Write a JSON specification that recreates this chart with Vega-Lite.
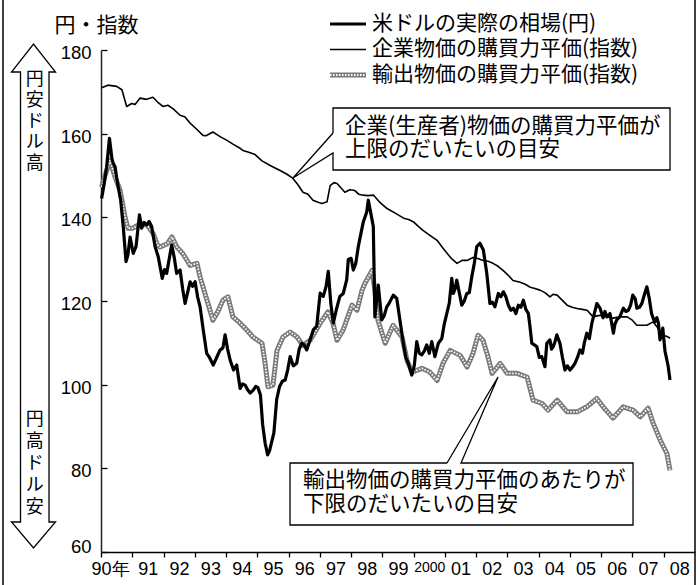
{
"$schema": "https://vega.github.io/schema/vega-lite/v6.json",
"width": 594, "height": 502,
"autosize": {"type": "none"},
"padding": {"left": 101, "top": 50, "right": 3, "bottom": 33},
"background": "white",
"config": {"view": {"stroke": null}, "text": {"font": "Noto Sans CJK JP", "color": "black"}},
"datasets": {
"usd": [
{"t":1990.02,"v":144.5},{"t":1990.10,"v":148},{"t":1990.18,"v":152},{"t":1990.27,"v":158.9},{"t":1990.35,"v":154},{"t":1990.39,"v":152.9},{"t":1990.45,"v":152.1},{"t":1990.50,"v":149.5},{"t":1990.55,"v":147.3},{"t":1990.63,"v":144.1},{"t":1990.72,"v":137},{"t":1990.80,"v":129.4},{"t":1990.86,"v":131},{"t":1990.93,"v":135.3},
{"t":1991.03,"v":131.4},{"t":1991.12,"v":133},{"t":1991.23,"v":140.6},{"t":1991.30,"v":137.4},{"t":1991.38,"v":138.8},{"t":1991.46,"v":138.2},{"t":1991.54,"v":139},{"t":1991.62,"v":137.8},{"t":1991.73,"v":133},{"t":1991.83,"v":130.6},{"t":1991.96,"v":125.4},
{"t":1992.03,"v":127.5},{"t":1992.10,"v":126.6},{"t":1992.18,"v":130},{"t":1992.26,"v":133.4},{"t":1992.34,"v":130.5},{"t":1992.42,"v":126.6},{"t":1992.53,"v":127.4},{"t":1992.61,"v":123},{"t":1992.69,"v":119.4},{"t":1992.77,"v":122},{"t":1992.85,"v":124.6},{"t":1992.93,"v":123.5},
{"t":1993.01,"v":124.6},{"t":1993.09,"v":121},{"t":1993.17,"v":118.6},{"t":1993.27,"v":113.1},{"t":1993.38,"v":107.5},{"t":1993.47,"v":106.5},{"t":1993.59,"v":104.7},{"t":1993.70,"v":106.5},{"t":1993.81,"v":108.3},{"t":1993.90,"v":108.8},{"t":1993.97,"v":111.9},
{"t":1994.05,"v":108.5},{"t":1994.13,"v":105.9},{"t":1994.24,"v":103.5},{"t":1994.34,"v":104.7},{"t":1994.45,"v":99.1},{"t":1994.53,"v":100.2},{"t":1994.61,"v":99.9},{"t":1994.69,"v":98.8},{"t":1994.77,"v":98},{"t":1994.87,"v":98.7},{"t":1994.95,"v":99.6},
{"t":1995.02,"v":99.3},{"t":1995.10,"v":97.5},{"t":1995.17,"v":90.5},{"t":1995.25,"v":86},{"t":1995.33,"v":83.2},{"t":1995.39,"v":84.2},{"t":1995.45,"v":86},{"t":1995.53,"v":88.5},{"t":1995.62,"v":96.5},{"t":1995.71,"v":99.5},{"t":1995.80,"v":100.8},{"t":1995.89,"v":101.1},{"t":1995.97,"v":103.5},
{"t":1996.05,"v":106.7},{"t":1996.15,"v":104.5},{"t":1996.26,"v":105.1},{"t":1996.34,"v":108.5},{"t":1996.42,"v":109.9},{"t":1996.50,"v":109.5},{"t":1996.58,"v":108.3},{"t":1996.68,"v":110.5},{"t":1996.79,"v":113.1},{"t":1996.90,"v":114},
{"t":1997.01,"v":121.9},{"t":1997.11,"v":121.1},{"t":1997.20,"v":123.5},{"t":1997.27,"v":127.1},{"t":1997.35,"v":119.5},{"t":1997.43,"v":114.7},{"t":1997.53,"v":118},{"t":1997.64,"v":121.1},{"t":1997.75,"v":121.8},{"t":1997.86,"v":125.1},{"t":1997.91,"v":129.9},
{"t":1998.00,"v":130.2},{"t":1998.07,"v":127.4},{"t":1998.15,"v":129},{"t":1998.23,"v":133},{"t":1998.31,"v":136},{"t":1998.39,"v":138.9},{"t":1998.50,"v":141.3},{"t":1998.55,"v":144.1},{"t":1998.63,"v":141},{"t":1998.71,"v":137.8},{"t":1998.76,"v":116.2},{"t":1998.87,"v":123.8},{"t":1998.98,"v":115.5},
{"t":1999.06,"v":116.5},{"t":1999.14,"v":118.6},{"t":1999.22,"v":119.5},{"t":1999.35,"v":121.4},{"t":1999.46,"v":120.6},{"t":1999.56,"v":115.5},{"t":1999.67,"v":109.9},{"t":1999.75,"v":106.5},{"t":1999.83,"v":105.1},{"t":1999.94,"v":102.3},
{"t":2000.02,"v":104.5},{"t":2000.10,"v":110.3},{"t":2000.18,"v":107.5},{"t":2000.26,"v":107.1},{"t":2000.34,"v":108},{"t":2000.42,"v":109.5},{"t":2000.50,"v":107.5},{"t":2000.58,"v":110.3},{"t":2000.68,"v":106.7},{"t":2000.79,"v":109.9},{"t":2000.90,"v":111},{"t":2000.98,"v":114.5},
{"t":2001.06,"v":117},{"t":2001.14,"v":119.5},{"t":2001.22,"v":125.4},{"t":2001.27,"v":121.8},{"t":2001.33,"v":123},{"t":2001.38,"v":125},{"t":2001.46,"v":122},{"t":2001.54,"v":119},{"t":2001.62,"v":120},{"t":2001.70,"v":121.8},{"t":2001.78,"v":122},{"t":2001.86,"v":125.8},{"t":2001.94,"v":129},
{"t":2002.02,"v":133},{"t":2002.12,"v":133.8},{"t":2002.23,"v":132.2},{"t":2002.34,"v":126.6},{"t":2002.44,"v":119.4},{"t":2002.52,"v":119.7},{"t":2002.60,"v":118.6},{"t":2002.71,"v":121.8},{"t":2002.79,"v":121},{"t":2002.87,"v":122.2},{"t":2002.95,"v":121},
{"t":2003.03,"v":119},{"t":2003.11,"v":117.8},{"t":2003.19,"v":118.3},{"t":2003.27,"v":117},{"t":2003.35,"v":119},{"t":2003.43,"v":118.5},{"t":2003.51,"v":120.2},{"t":2003.59,"v":118},{"t":2003.67,"v":117},{"t":2003.72,"v":114},{"t":2003.78,"v":109.9},{"t":2003.86,"v":109.5},{"t":2003.94,"v":109.1},
{"t":2004.02,"v":106.5},{"t":2004.10,"v":106.7},{"t":2004.20,"v":104.3},{"t":2004.26,"v":109.9},{"t":2004.36,"v":110.7},{"t":2004.41,"v":108.5},{"t":2004.47,"v":109.1},{"t":2004.53,"v":110.5},{"t":2004.58,"v":111.9},{"t":2004.68,"v":109.9},{"t":2004.76,"v":106.5},{"t":2004.84,"v":103.5},{"t":2004.92,"v":104.5},
{"t":2005.00,"v":103.5},{"t":2005.08,"v":104.2},{"t":2005.16,"v":105.1},{"t":2005.24,"v":106.5},{"t":2005.32,"v":108.3},{"t":2005.40,"v":107.5},{"t":2005.46,"v":110},{"t":2005.54,"v":112.3},{"t":2005.62,"v":111},{"t":2005.70,"v":114.7},{"t":2005.78,"v":117},{"t":2005.86,"v":119.4},{"t":2005.96,"v":118.3},
{"t":2006.06,"v":116},{"t":2006.12,"v":117.5},{"t":2006.18,"v":116.2},{"t":2006.28,"v":117},{"t":2006.39,"v":112.3},{"t":2006.44,"v":114.5},{"t":2006.50,"v":115.5},{"t":2006.60,"v":116.3},{"t":2006.71,"v":118.3},{"t":2006.79,"v":117.5},{"t":2006.87,"v":117.8},{"t":2006.94,"v":119},
{"t":2007.01,"v":121.4},{"t":2007.09,"v":120.5},{"t":2007.14,"v":118.3},{"t":2007.22,"v":118.5},{"t":2007.30,"v":119.4},{"t":2007.38,"v":121.5},{"t":2007.46,"v":123.4},{"t":2007.54,"v":120.5},{"t":2007.61,"v":117},{"t":2007.68,"v":115.5},{"t":2007.72,"v":115},{"t":2007.78,"v":116},{"t":2007.83,"v":114.7},{"t":2007.88,"v":110.7},{"t":2007.93,"v":112},{"t":2007.97,"v":113.5},
{"t":2008.04,"v":108},{"t":2008.10,"v":105.9},{"t":2008.14,"v":104.5},{"t":2008.20,"v":101.1}
],
"cgpi": [
{"t":1990.02,"v":171.0},{"t":1990.22,"v":171.6},{"t":1990.50,"v":171.3},{"t":1990.67,"v":170.5},{"t":1990.82,"v":166.5},{"t":1990.98,"v":167.2},{"t":1991.09,"v":167.0},{"t":1991.25,"v":168.5},{"t":1991.46,"v":168.2},{"t":1991.66,"v":168.7},{"t":1991.82,"v":167.5},{"t":1991.98,"v":166.5},
{"t":1992.14,"v":166.8},{"t":1992.30,"v":166},{"t":1992.53,"v":164.4},{"t":1992.69,"v":164},{"t":1992.85,"v":162.5},{"t":1993.07,"v":161},{"t":1993.26,"v":159.6},{"t":1993.36,"v":159.5},{"t":1993.58,"v":160.4},{"t":1993.81,"v":159.3},{"t":1994.03,"v":158.4},{"t":1994.22,"v":157.5},{"t":1994.45,"v":156.5},{"t":1994.54,"v":156},{"t":1994.70,"v":155.6},{"t":1994.93,"v":155},
{"t":1995.15,"v":153.5},{"t":1995.41,"v":152.4},{"t":1995.73,"v":151.2},{"t":1995.95,"v":150.3},{"t":1996.14,"v":149.3},{"t":1996.30,"v":147.8},{"t":1996.46,"v":146.0},{"t":1996.62,"v":145.5},{"t":1996.78,"v":144.1},{"t":1996.94,"v":143.6},{"t":1997.07,"v":143.3},{"t":1997.23,"v":143.7},{"t":1997.33,"v":147.6},{"t":1997.45,"v":148.3},{"t":1997.55,"v":148.1},{"t":1997.68,"v":147.0},{"t":1997.80,"v":146},{"t":1997.96,"v":146.6},
{"t":1998.12,"v":146.4},{"t":1998.25,"v":145.5},{"t":1998.38,"v":145.3},{"t":1998.54,"v":145.2},{"t":1998.72,"v":145.3},{"t":1998.93,"v":143.5},{"t":1999.15,"v":142.1},{"t":1999.41,"v":141},{"t":1999.68,"v":139.8},{"t":1999.84,"v":139.5},{"t":2000.00,"v":138.9},{"t":2000.14,"v":137.9},{"t":2000.30,"v":136.9},{"t":2000.52,"v":135.7},{"t":2000.75,"v":134.5},{"t":2000.91,"v":132.9},
{"t":2001.07,"v":131.4},{"t":2001.23,"v":130},{"t":2001.39,"v":129},{"t":2001.55,"v":129.7},{"t":2001.71,"v":129.7},{"t":2001.90,"v":130.4},{"t":2002.03,"v":130.2},{"t":2002.22,"v":129.7},{"t":2002.38,"v":129.5},{"t":2002.54,"v":129},{"t":2002.70,"v":128.3},{"t":2002.86,"v":127.3},
{"t":2003.02,"v":126.2},{"t":2003.18,"v":124.9},{"t":2003.41,"v":124.5},{"t":2003.57,"v":124},{"t":2003.73,"v":123.3},{"t":2003.88,"v":123},{"t":2004.04,"v":122.6},{"t":2004.20,"v":122},{"t":2004.36,"v":121},{"t":2004.46,"v":121.6},{"t":2004.59,"v":121.4},{"t":2004.75,"v":120.2},{"t":2004.91,"v":119},
{"t":2005.07,"v":118.5},{"t":2005.23,"v":118.2},{"t":2005.39,"v":118},{"t":2005.55,"v":117.8},{"t":2005.74,"v":116.2},{"t":2005.90,"v":116.5},{"t":2006.06,"v":116.6},{"t":2006.22,"v":116.2},{"t":2006.38,"v":115.9},{"t":2006.60,"v":116.2},{"t":2006.83,"v":116.2},{"t":2006.98,"v":115.5},
{"t":2007.14,"v":114.2},{"t":2007.30,"v":114.2},{"t":2007.46,"v":114.2},{"t":2007.66,"v":115},{"t":2007.79,"v":113.8},{"t":2007.88,"v":112.5},{"t":2007.98,"v":111.8},{"t":2008.11,"v":111.5},{"t":2008.20,"v":111.1}
],
"exp": [
{"t":1990.02,"v":147.2},{"t":1990.13,"v":150},{"t":1990.29,"v":153.6},{"t":1990.45,"v":149.6},{"t":1990.61,"v":146.5},{"t":1990.77,"v":140},{"t":1990.86,"v":137.4},{"t":1991.02,"v":137.4},{"t":1991.18,"v":138.1},{"t":1991.34,"v":138.4},{"t":1991.48,"v":138.1},{"t":1991.67,"v":136.1},{"t":1991.80,"v":133.5},{"t":1991.89,"v":132.9},
{"t":1992.12,"v":133.7},{"t":1992.27,"v":135.3},{"t":1992.43,"v":132.9},{"t":1992.62,"v":131.3},{"t":1992.85,"v":128.5},{"t":1993.07,"v":129},{"t":1993.17,"v":125.7},{"t":1993.39,"v":120.2},{"t":1993.58,"v":115.4},{"t":1993.74,"v":117.5},{"t":1993.90,"v":120.2},{"t":1994.06,"v":121},{"t":1994.22,"v":116.2},{"t":1994.45,"v":114.7},{"t":1994.67,"v":113},{"t":1994.86,"v":111.4},
{"t":1995.15,"v":109.9},{"t":1995.25,"v":105.1},{"t":1995.34,"v":99.5},{"t":1995.50,"v":99.9},{"t":1995.63,"v":108.2},{"t":1995.82,"v":111.4},{"t":1996.05,"v":112.6},{"t":1996.27,"v":111.4},{"t":1996.46,"v":109.4},{"t":1996.69,"v":110.6},{"t":1997.01,"v":114.7},{"t":1997.26,"v":117.4},{"t":1997.42,"v":114.7},{"t":1997.55,"v":110.6},{"t":1997.74,"v":113},
{"t":1998.03,"v":119},{"t":1998.19,"v":117.8},{"t":1998.35,"v":122.6},{"t":1998.44,"v":124.2},{"t":1998.67,"v":127.3},{"t":1998.76,"v":122.6},{"t":1998.86,"v":115.4},{"t":1999.09,"v":109.9},{"t":1999.34,"v":114.2},{"t":1999.63,"v":111.4},{"t":1999.79,"v":105.8},{"t":1999.95,"v":103},
{"t":2000.27,"v":103.9},{"t":2000.52,"v":103},{"t":2000.75,"v":101},{"t":2000.94,"v":105.1},{"t":2001.17,"v":108.2},{"t":2001.49,"v":107},{"t":2001.71,"v":104.2},{"t":2001.90,"v":107.5},{"t":2002.06,"v":111.8},{"t":2002.22,"v":110.6},{"t":2002.38,"v":106.6},{"t":2002.51,"v":102.7},{"t":2002.77,"v":105.1},{"t":2002.99,"v":102.7},
{"t":2003.31,"v":102.7},{"t":2003.63,"v":101.8},{"t":2003.82,"v":96.3},{"t":2004.11,"v":95.5},{"t":2004.30,"v":93.9},{"t":2004.59,"v":96.3},{"t":2004.91,"v":93.5},{"t":2005.23,"v":93.5},{"t":2005.54,"v":94.7},{"t":2005.86,"v":96.7},{"t":2006.06,"v":94.7},{"t":2006.38,"v":92},{"t":2006.70,"v":94.7},
{"t":2007.02,"v":93.9},{"t":2007.25,"v":92.3},{"t":2007.50,"v":94.4},{"t":2007.66,"v":90.8},{"t":2007.89,"v":86.7},{"t":2008.10,"v":83.6},{"t":2008.20,"v":79.5}
],
"legendLines": [
{"k":"usd","t":1997.325,"v":186.215},{"k":"usd","t":1998.476,"v":186.215},
{"k":"cgpi","t":1997.325,"v":180.12},{"k":"cgpi","t":1998.476,"v":180.12},
{"k":"exp","t":1997.325,"v":174.024},{"k":"exp","t":1998.476,"v":174.024}
],
"shapes": [
{"id":"b1","i":0,"t":1997.421,"v":160.159},{"id":"b1","i":1,"t":1997.421,"v":166.135},{"id":"b1","i":2,"t":2008.201,"v":166.135},{"id":"b1","i":3,"t":2008.201,"v":151.314},{"id":"b1","i":4,"t":1997.421,"v":151.314},{"id":"b1","i":5,"t":1997.421,"v":155.378},{"id":"b1","i":6,"t":1996.141,"v":149.402},{"id":"b1","i":7,"t":1997.421,"v":160.159},
{"id":"b2","i":0,"t":2001.067,"v":81.274},{"id":"b2","i":1,"t":1996.046,"v":81.274},{"id":"b2","i":2,"t":1996.046,"v":66.453},{"id":"b2","i":3,"t":2007.017,"v":66.453},{"id":"b2","i":4,"t":2007.017,"v":81.274},{"id":"b2","i":5,"t":2001.515,"v":81.274},{"id":"b2","i":6,"t":2002.699,"v":101.832},{"id":"b2","i":7,"t":2001.067,"v":81.274},
{"id":"ar","i":0,"t":1988.337,"v":120},{"id":"ar","i":1,"t":1988.337,"v":67.17},{"id":"ar","i":2,"t":1988.545,"v":67.17},{"id":"ar","i":3,"t":1987.841,"v":60.955},{"id":"ar","i":4,"t":1987.137,"v":67.17},{"id":"ar","i":5,"t":1987.425,"v":67.17},{"id":"ar","i":6,"t":1987.425,"v":174.741},{"id":"ar","i":7,"t":1987.137,"v":174.741},{"id":"ar","i":8,"t":1987.841,"v":181.434},{"id":"ar","i":9,"t":1988.545,"v":174.741},{"id":"ar","i":10,"t":1988.337,"v":174.741},{"id":"ar","i":11,"t":1988.337,"v":120}
],
"frame": [
{"t":1986.865,"v":194.3,"v2":49.7},{"t":2009.0,"v":194.3,"v2":49.7}
],
"texts": [
{"g":"leg","t":1998.668,"v":186.215,"label":"米ドルの実際の相場(円)"},
{"g":"leg","t":1998.668,"v":180.12,"label":"企業物価の購買力平価(指数)"},
{"g":"leg","t":1998.668,"v":174.024,"label":"輸出物価の購買力平価(指数)"},
{"g":"box1","t":1997.805,"v":161.594,"label":"企業(生産者)物価の購買力平価が\n上限のだいたいの目安"},
{"g":"box2","t":1996.461,"v":76.971,"label":"輸出物価の購買力平価のあたりが\n下限のだいたいの目安"},
{"g":"arr1","t":1987.884,"v":172.829,"label":"円\n安\nド\nル\n高"},
{"g":"arr2","t":1987.884,"v":91.673,"label":"円\n高\nド\nル\n安"}
]
},
"encoding": {
"x": {"field": "t", "type": "quantitative",
 "scale": {"domain": [1990, 2009], "nice": false, "zero": false},
 "axis": {"title": null, "grid": false,
  "values": [1990,1991,1992,1993,1994,1995,1996,1997,1998,1999,2000,2001,2002,2003,2004,2005,2006,2007,2008],
  "labelExpr": "datum.value == 1990 ? '90年' : datum.value == 2000 ? '2000' : ((datum.value % 100) < 10 ? '0' : '') + (datum.value % 100)",
  "labelOffset": {"condition": {"test": "datum.value == 1990", "value": 9}, "value": 15.6},
  "tickSize": 5, "tickColor": "black", "tickWidth": 1.3,
  "domainColor": "black", "domainWidth": 1.5,
  "labelFont": "Liberation Sans Narrow, Liberation Sans, sans-serif",
  "labelFontSize": {"condition": {"test": "datum.value == 2000", "value": 14}, "value": 18},
  "labelColor": "black",
  "labelPadding": 3, "labelFlush": false, "labelOverlap": false, "labelBound": false}},
"y": {"field": "v", "type": "quantitative",
 "scale": {"domain": [60, 180], "nice": false, "zero": false},
 "axis": {"title": "円・指数", "titleAngle": 0, "titleX": -5, "titleY": -25, "titleAlign": "center", "titleBaseline": "middle",
  "titleFont": "Noto Sans CJK JP", "titleFontSize": 21, "titleFontWeight": "normal", "titleColor": "black",
  "values": [60,80,100,120,140,160,180], "grid": false,
  "tickSize": -6, "tickColor": "black", "tickWidth": 1.3,
  "domainColor": "#222", "domainWidth": 1.5,
  "labelFont": "Liberation Sans, Arial, sans-serif", "labelFontSize": 18.5, "labelColor": "black",
  "labelPadding": 16, "labelFlush": false, "labelBound": false,
  "labelBaseline": {"condition": {"test": "datum.value == 60", "value": "alphabetic"}, "value": "middle"},
  "labelOffset": {"condition": {"test": "datum.value == 60", "value": 0}, "value": 2.5}}}
},
"layer": [
{"data": {"name": "frame"}, "mark": {"type": "rule", "color": "black", "strokeWidth": 1.5, "clip": false}, "encoding": {"y2": {"field": "v2"}}},
{"data": {"name": "shapes"}, "mark": {"type": "line", "color": "black", "strokeWidth": 1.3, "clip": false, "strokeJoin": "miter"}, "encoding": {"detail": {"field": "id"}, "order": {"field": "i", "type": "quantitative"}}},
{"data": {"name": "exp"}, "mark": {"type": "line", "color": "#7a7a7a", "strokeWidth": 5, "strokeJoin": "round", "clip": false}},
{"data": {"name": "exp"}, "mark": {"type": "line", "color": "white", "strokeWidth": 1.8, "strokeDash": [1.5, 1.5], "strokeJoin": "round", "clip": false}},
{"data": {"name": "cgpi"}, "mark": {"type": "line", "color": "black", "strokeWidth": 1.6, "strokeJoin": "round", "clip": false}},
{"data": {"name": "usd"}, "mark": {"type": "line", "color": "black", "strokeWidth": 3.2, "strokeJoin": "round", "clip": false}},
{"data": {"name": "legendLines"}, "transform": [{"filter": "datum.k == 'usd'"}], "mark": {"type": "line", "color": "black", "strokeWidth": 3.2, "clip": false}},
{"data": {"name": "legendLines"}, "transform": [{"filter": "datum.k == 'cgpi'"}], "mark": {"type": "line", "color": "black", "strokeWidth": 1.6, "clip": false}},
{"data": {"name": "legendLines"}, "transform": [{"filter": "datum.k == 'exp'"}], "mark": {"type": "line", "color": "#7a7a7a", "strokeWidth": 5, "clip": false}},
{"data": {"name": "legendLines"}, "transform": [{"filter": "datum.k == 'exp'"}], "mark": {"type": "line", "color": "white", "strokeWidth": 1.8, "strokeDash": [1.5, 1.5], "clip": false}},
{"data": {"name": "texts"}, "transform": [{"filter": "datum.g == 'leg'"}], "mark": {"type": "text", "align": "left", "baseline": "middle", "fontSize": 21, "font": "Noto Sans CJK JP", "clip": false}, "encoding": {"text": {"field": "label"}}},
{"data": {"name": "texts"}, "transform": [{"filter": "datum.g == 'box1'"}], "mark": {"type": "text", "align": "left", "baseline": "middle", "fontSize": 21.5, "lineBreak": "\n", "lineHeight": 23, "font": "Noto Sans CJK JP", "clip": false}, "encoding": {"text": {"field": "label"}}},
{"data": {"name": "texts"}, "transform": [{"filter": "datum.g == 'box2'"}], "mark": {"type": "text", "align": "left", "baseline": "middle", "fontSize": 21.5, "lineBreak": "\n", "lineHeight": 24, "font": "Noto Sans CJK JP", "clip": false}, "encoding": {"text": {"field": "label"}}},
{"data": {"name": "texts"}, "transform": [{"filter": "datum.g == 'arr1'"}], "mark": {"type": "text", "align": "center", "baseline": "middle", "fontSize": 18, "lineBreak": "\n", "lineHeight": 21, "font": "Noto Sans CJK JP", "clip": false}, "encoding": {"text": {"field": "label"}}},
{"data": {"name": "texts"}, "transform": [{"filter": "datum.g == 'arr2'"}], "mark": {"type": "text", "align": "center", "baseline": "middle", "fontSize": 18, "lineBreak": "\n", "lineHeight": 22, "font": "Noto Sans CJK JP", "clip": false}, "encoding": {"text": {"field": "label"}}}
]
}
